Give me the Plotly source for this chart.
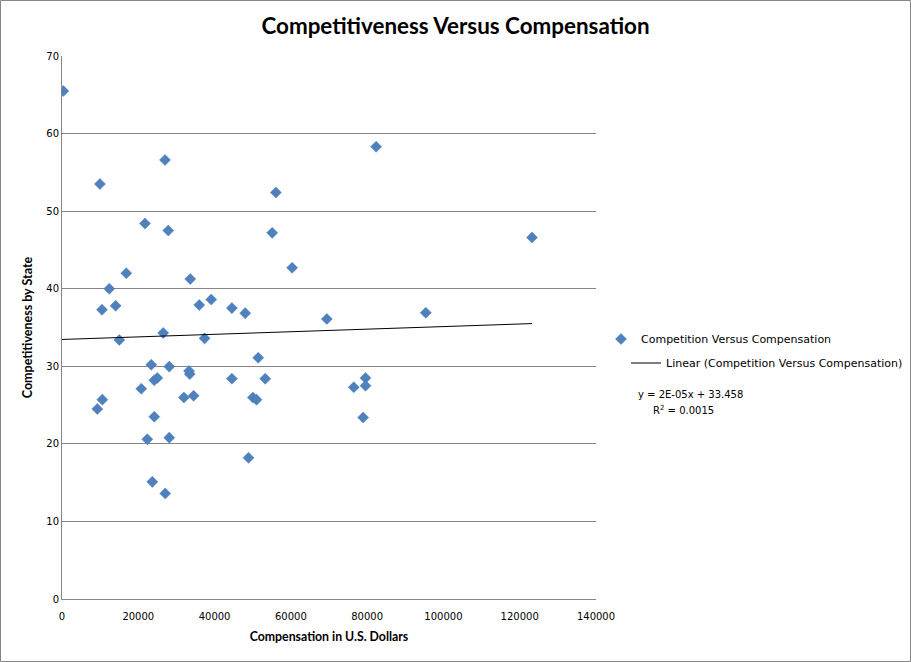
import plotly.graph_objects as go

# Data
compensation = [340, 9950, 27000, 56070, 21750, 27860, 55100, 60340, 16850, 33620,
                12400, 10480, 14060, 35980, 39120, 44540, 48030, 69430, 26540, 15020,
                37380, 51440, 23400, 28120, 33300, 33500, 24190, 24980, 44540, 53280,
                20780, 31960, 34500, 50040, 51000, 10570, 9260, 24190, 22360, 28120,
                48900, 23670, 27070, 82350, 123220, 95370, 79570, 76500, 79570, 78950]
competitiveness = [65.5, 53.5, 56.6, 52.4, 48.4, 47.5, 47.2, 42.7, 42.0, 41.25,
                   40.0, 37.3, 37.8, 37.9, 38.6, 37.5, 36.85, 36.1, 34.3, 33.4,
                   33.6, 31.1, 30.2, 29.96, 29.4, 29.0, 28.2, 28.5, 28.4, 28.4,
                   27.1, 25.97, 26.2, 25.97, 25.7, 25.7, 24.5, 23.5, 20.6, 20.8,
                   18.2, 15.1, 13.6, 58.3, 46.6, 36.9, 28.5, 27.3, 27.5, 23.4]
trend_intercept = 33.458
trend_slope = 1.66e-05
x_ticks = [0, 20000, 40000, 60000, 80000, 100000, 120000, 140000]
y_ticks = [0, 10, 20, 30, 40, 50, 60, 70]

trend_x = [0, max(compensation)]
trend_y = [trend_intercept + trend_slope * v for v in trend_x]

W, H = 911, 662
L, R, T, B = 62, 315, 56, 63
pw, ph = W - L - R, H - T - B


def px(x):
    return (x - L) / pw


def py(y):
    return (H - B - y) / ph


fig = go.Figure()
fig.add_trace(go.Scatter(
    x=compensation, y=competitiveness, mode="markers",
    name="Competition Versus Compensation",
    marker=dict(symbol="diamond", size=8.5, color="#4F81BD",
                line=dict(width=0.5, color="#4A7EBB")),
    legend="legend",
))
fig.add_trace(go.Scatter(
    x=trend_x, y=trend_y, mode="lines",
    name="Linear (Competition Versus Compensation)",
    line=dict(color="black", width=1),
    legend="legend2",
))

axis_common = dict(showline=True, linecolor="#868686", linewidth=1, ticks="",
                   zeroline=False, tickfont=dict(family="DejaVu Sans", size=10, color="black"))

fig.update_layout(
    width=W, height=H,
    margin=dict(l=L, r=R, t=T, b=B, autoexpand=False),
    paper_bgcolor="white", plot_bgcolor="white",
    font=dict(family="DejaVu Sans", size=10, color="black"),
    title=dict(text="<b>Competitiveness Versus Compensation</b>",
               x=0.5, xanchor="center", y=1 - 26 / H, yanchor="middle",
               font=dict(family="Lato", size=22.4, color="black")),
    xaxis=dict(range=[0, 140000], tickvals=x_ticks, ticktext=[str(v) for v in x_ticks],
               showgrid=False, ticklabelstandoff=8,
               title=dict(text="<b>Compensation in U.S. Dollars</b>", standoff=11,
                          font=dict(family="Lato", size=12.3)),
               **axis_common),
    yaxis=dict(range=[0, 70], tickvals=y_ticks, ticktext=[str(v) for v in y_ticks],
               showgrid=True, gridcolor="#868686", gridwidth=1,
               title=dict(text="<b>Competitiveness by State</b>", standoff=10,
                          font=dict(family="Lato", size=12.5)),
               **axis_common),
    legend=dict(x=px(601), y=py(339), xanchor="left", yanchor="middle",
                font=dict(family="DejaVu Sans", size=11), bgcolor="rgba(0,0,0,0)"),
    legend2=dict(x=px(626), y=py(363), xanchor="left", yanchor="middle",
                 font=dict(family="DejaVu Sans", size=11), bgcolor="rgba(0,0,0,0)"),
    showlegend=True,
)

fig.add_annotation(x=px(636), y=py(394), xref="paper", yref="paper",
                   text="y = 2E-05x + 33.458", showarrow=False, xanchor="left",
                   yanchor="middle", font=dict(family="DejaVu Sans", size=10))
fig.add_annotation(x=px(651), y=py(410), xref="paper", yref="paper",
                   text="R<sup>2</sup> = 0.0015", showarrow=False, xanchor="left",
                   yanchor="middle", font=dict(family="DejaVu Sans", size=10))

# outer chart border
fig.add_shape(type="rect", xref="paper", yref="paper",
              x0=px(0.5), x1=px(W - 0.5), y0=py(H - 0.5), y1=py(0.5),
              line=dict(color="#868686", width=1), layer="below")

fig.write_html("out.html", config={"displayModeBar": False},
               post_script="document.body.style.margin='0px';")
